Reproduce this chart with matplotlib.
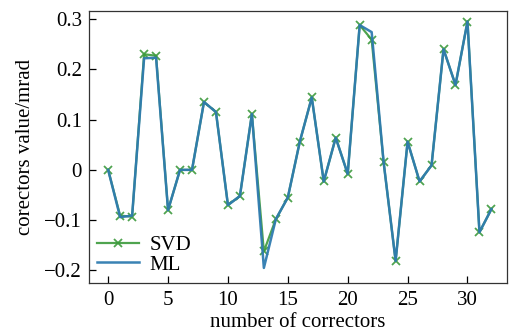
import matplotlib
matplotlib.use("Agg")
import matplotlib.pyplot as plt
import numpy as np

correctors = list(range(33))
svd = [0.0, -0.091, -0.093, 0.230, 0.227, -0.080, 0.0, 0.0, 0.135, 0.115,
       -0.070, -0.052, 0.111, -0.162, -0.098, -0.055, 0.056, 0.144, -0.023, 0.064,
       -0.008, 0.288, 0.259, 0.015, -0.181, 0.056, -0.023, 0.009, 0.240, 0.169,
       0.295, -0.124, -0.078]
ml = [0.0, -0.094, -0.091, 0.222, 0.223, -0.080, 0.0, 0.0, 0.135, 0.115,
      -0.070, -0.052, 0.111, -0.195, -0.098, -0.055, 0.056, 0.144, -0.023, 0.064,
      -0.008, 0.288, 0.274, 0.015, -0.181, 0.056, -0.023, 0.009, 0.240, 0.169,
      0.295, -0.124, -0.078]
xticks = [0, 5, 10, 15, 20, 25, 30]
yticks = [-0.2, -0.1, 0.0, 0.1, 0.2, 0.3]
ytick_labels = ["\u22120.2", "\u22120.1", "0", "0.1", "0.2", "0.3"]

plt.rcParams['font.family'] = ['Liberation Serif', 'DejaVu Serif']
plt.rcParams['font.size'] = 15

fig = plt.figure(figsize=(5.1, 3.36), dpi=100)
ax = fig.add_axes([89/510, 1-283/336, (507-89)/510, (283-11)/336])

ax.plot(correctors, svd, color='#3c9a3c', marker='x', markersize=5.5, lw=1.6,
        mew=1.3, label='SVD', alpha=0.9)
ax.plot(correctors, ml, color='#2f7bb0', lw=1.8, label='ML', alpha=0.95)

ax.set_xlim(-1.6, 33.3)
ax.set_ylim(-0.225, 0.316)
ax.set_xticks(xticks)
ax.set_yticks(yticks)
ax.set_yticklabels(ytick_labels)
ax.tick_params(direction='in', length=5, width=0.9, top=False, right=False)
ax.tick_params(axis='x', pad=6)
ax.tick_params(axis='y', pad=5)
for s in ax.spines.values():
    s.set_color('#333333')
    s.set_linewidth(0.9)

ax.set_xlabel('number of correctors', labelpad=2)
ax.set_ylabel('corectors value/mrad', labelpad=7)
ax.legend(loc='lower left', frameon=False, handlelength=2.0, borderaxespad=0.2,
          labelspacing=0.0, handletextpad=0.5, borderpad=0.2)

fig.savefig('out.png', dpi=100)
